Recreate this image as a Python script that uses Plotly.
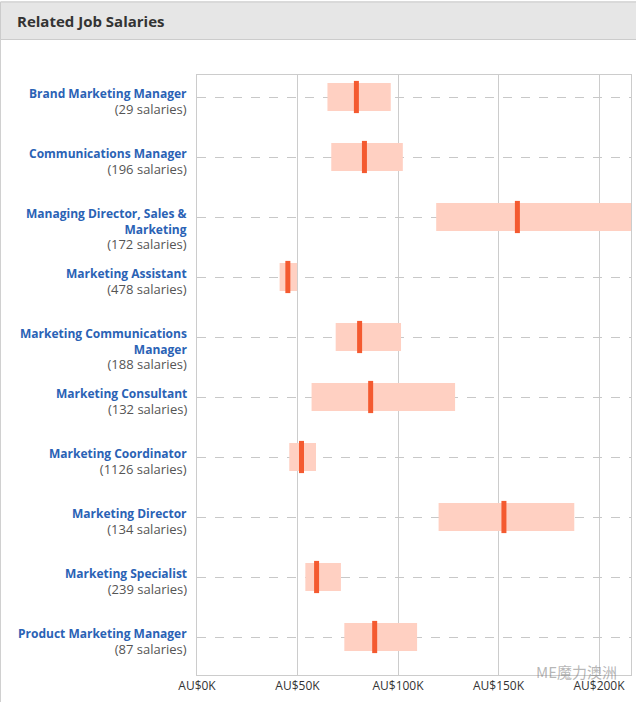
import plotly.graph_objects as go

# ---- data (AU$ thousands) ----
jobs = [
    "Brand Marketing Manager",
    "Communications Manager",
    "Managing Director, Sales &amp;<br>Marketing",
    "Marketing Assistant",
    "Marketing Communications<br>Manager",
    "Marketing Consultant",
    "Marketing Coordinator",
    "Marketing Director",
    "Marketing Specialist",
    "Product Marketing Manager",
]
salary_counts = [29, 196, 172, 478, 188, 132, 1126, 134, 239, 87]
low = [64.9, 66.8, 119.0, 41.1, 69.0, 57.0, 45.9, 120.2, 53.9, 73.3]
high = [96.4, 102.4, 225.0, 49.8, 101.5, 128.4, 59.2, 187.7, 71.6, 109.5]
median = [79.3, 83.3, 159.4, 45.2, 80.9, 86.4, 52.0, 152.7, 59.5, 88.4]
tick_vals = [0, 50, 100, 150, 200]
tick_text = ["AU$%dK" % v for v in tick_vals]

# ---- layout geometry (pixels) ----
W, H = 636, 702
ML, MR, MT, MB = 197, 5, 75, 27
PW, PH = W - ML - MR, H - MT - MB


def px_x(p):
    return (p - ML) / PW


def px_y(q):
    return (H - MB - q) / PH


rows = list(range(len(jobs)))
ROW_PX = PH / len(jobs)

fig = go.Figure()
fig.add_trace(go.Bar(
    orientation="h",
    y=rows,
    base=low,
    x=[h - l for h, l in zip(high, low)],
    width=28 / ROW_PX,
    marker=dict(color="#ffd0c2", line=dict(width=0)),
    hoverinfo="skip",
))
fig.add_trace(go.Scatter(
    x=median,
    y=rows,
    mode="markers",
    marker=dict(symbol="line-ns", size=23, line=dict(width=5, color="#f45a30")),
    hoverinfo="skip",
))

annotations = []
BLUE = "#2a62b5"
GREY = "#555555"
for i, (name, cnt) in enumerate(zip(jobs, salary_counts)):
    lines = name.split("<br>")
    txt = "<br>".join("<b>" + ln + "</b>" for ln in lines)
    txt += "<br><span style='color:%s;font-size:13px'>(%d salaries)</span>" % (GREY, cnt)
    annotations.append(dict(
        xref="paper", yref="y", x=px_x(188.5), y=i,
        xanchor="right", yanchor="top", align="right",
        yshift=14,
        text=txt, showarrow=False,
        font=dict(family="Open Sans", size=12, color=BLUE),
    ))

annotations.append(dict(
    xref="paper", yref="paper", x=px_x(15), y=px_y(21),
    xanchor="left", yanchor="middle",
    text="<b>Related Job Salaries</b>", showarrow=False,
    font=dict(family="Open Sans", size=15, color="#333333"),
))
annotations.append(dict(
    xref="paper", yref="paper", x=px_x(576), y=px_y(671),
    xanchor="center", yanchor="middle",
    text="ME魔力澳洲", showarrow=False,
    font=dict(family="Noto Sans CJK SC", size=15, color="rgba(120,120,120,0.55)"),
))

shapes = [
    # panel outline
    dict(type="rect", xref="paper", yref="paper",
         x0=px_x(0.5), x1=px_x(W + 5), y0=px_y(H + 5), y1=px_y(2),
         line=dict(color="#d0d0d0", width=1), fillcolor="rgba(0,0,0,0)", layer="below"),
    # header
    dict(type="rect", xref="paper", yref="paper",
         x0=px_x(0.5), x1=px_x(W + 5), y0=px_y(39.5), y1=px_y(2),
         line=dict(color="#cccccc", width=1), fillcolor="#e6e6e6", layer="below"),
]

fig.update_layout(
    width=W, height=H,
    margin=dict(l=ML, r=MR, t=MT, b=MB, pad=0),
    paper_bgcolor="white", plot_bgcolor="white",
    showlegend=False,
    barmode="overlay",
    annotations=annotations,
    shapes=shapes,
    font=dict(family="Open Sans", size=11, color="#333333"),
    xaxis=dict(
        range=[0, PW / 2.01], tickvals=tick_vals, ticktext=tick_text,
        showgrid=True, gridcolor="#cccccc", gridwidth=1,
        showline=True, linecolor="#cccccc", linewidth=1, mirror=True,
        zeroline=False, ticks="", tickfont=dict(size=12, color="#333333"),
        fixedrange=True,
    ),
    yaxis=dict(
        range=[len(jobs) - 1 + 38 / ROW_PX, -22 / ROW_PX],
        tickvals=rows, showticklabels=False,
        showgrid=True, gridcolor="#c8c8c8", gridwidth=1, griddash="dash",
        showline=True, linecolor="#cccccc", linewidth=1, mirror=True,
        zeroline=False, ticks="", fixedrange=True,
    ),
)

fig.write_html(
    "out.html",
    config={"displayModeBar": False},
    post_script="document.body.style.margin='0';document.body.style.overflow='hidden';",
)
